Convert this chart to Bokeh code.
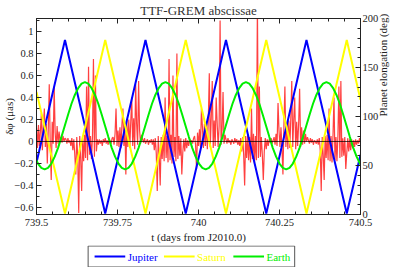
import math
import numpy as np
from bokeh.plotting import figure
from bokeh.models import Range1d, LinearAxis, FixedTicker, Span
from bokeh.layouts import column
from bokeh.embed import file_html
from bokeh.resources import INLINE
from bokeh.core.properties import value

FONT = "Liberation Serif"

# ---------------- data ----------------
x_ticks = [739.5, 739.75, 740.0, 740.25, 740.5]
x_tick_labels = ["739.5", "739.75", "740", "740.25", "740.5"]
x_minor = [739.55, 739.6, 739.65, 739.7, 739.8, 739.85, 739.9, 739.95,
           740.05, 740.1, 740.15, 740.2, 740.3, 740.35, 740.4, 740.45]
y_ticks = [-0.6, -0.4, -0.2, 0, 0.2, 0.4, 0.6, 0.8, 1.0]
y_tick_labels = ["\u22120.6", "\u22120.4", "\u22120.2", "0", "0.2", "0.4", "0.6", "0.8", "1"]
y_minor = [-0.5, -0.3, -0.1, 0.1, 0.3, 0.5, 0.7, 0.9, 1.1]
elong_ticks = [0, 50, 100, 150, 200]
elong_minor = [10, 20, 30, 40, 60, 70, 80, 90, 110, 120, 130, 140, 160, 170, 180, 190]

# TTF-GREM abscissa residuals (hundredths of micro-arcsec), evenly sampled over the day
red_start, red_end = 739.5, 740.5
red_cuas = [
    12, -6, 15, -4, 10, 26, -8, 14, 30, -5, 16, -20, 12, 52, -3, -35, 18, -2, 50, 8, -6, 14, -2, 9, 1,
    4, -1, 5, 0, 3, 2, -2, 3, -1, 1,
    -4, 3, -8, 2, -12, -30, 4, -14, -65, 5, -16, -45, 3, -18, 6, -15, 50, -17, 68, -12, 5, -16, 4, 75, -14, 60, -9, 2,
    -3, 2, -2, 1, -4, 2, -1, 3, -2, 1, -3, 2, 0, -2, 3,
    4, -3, 7, 30, -4, 10, -5, 13, -6, 15, 30, -4, 17, -30, 19, -5, 20, -6, 18, 40, -4, 21, -7, 52, 16, -3, 55, 10, -2, 6,
    2, -1, 3, -2, 0, 2, -3, 1, -1, 2,
    -3, 2, -8, 3, -11, -45, 5, -14, -40, 4, -16, 6, -18, 40, -15, 5, -19, 75, -17, 6, -20, 60, -14, 4, -18, 80, -16, 5,
    -13, 3, -30, -10, 2, -9, 3, -6, 1, -4,
    2, -1, 1, -2, 3,
    5, -3, -25, 8, -4, 11, -5, 30, 13, -6, 16, -4, 18, -7, 20, 62, -5, 22, 55, -6, 19, -4, 40, 17, -5, 14, 110, -3, 11, 45, -2, 6,
    2, -2, 3, -1, 1, -3, 2, 0, -2, 3, -1, 2, -3, 1,
    -4, 3, -9, 4, -12, -40, 5, -15, 6, -17, 4, -19, 30, -16, 7, -20, 5, -17, 125, -15, 50, -14, 4, -12, -35, -9, 3, -7, 2, -4,
    2, -1, 3, -2, 1,
    4, -3, 7, -4, 35, 10, -5, 13, -6, -30, 15, 50, -5, 17, -7, 19, -6, 21, 55, -5, 20, 40, -7, 18, -4, 16, 48, -5, 13, -3, 10, -2, 7, 0, 4,
    1, -2, 3, -1, 2, -3, 1, 0, -2, 2,
    -3, 3, -8, -45, 4, -12, -35, 5, -15, 6, -17, 30, -18, 5, -19, 6, 40, -17, 4, -18, 5, 50, -15, 55, -14, 3, -13, 4, -25, -11,
    3, -9, 2, -8, 2, -6, 1, -5,
    2, -3, 1, -2, 3, -1,
]

# Planet elongations (deg): turning points of the triangle waves
jup_t = [739.5, 739.5879, 739.7121, 739.8364, 739.9606, 740.0848, 740.2091, 740.3333, 740.4576, 740.5]
jup_deg = [53, 178, 1, 178, 1, 178, 1, 178, 1, 61]
sat_t = [739.5, 739.5879, 739.7121, 739.8364, 739.9606, 740.0848, 740.2091, 740.3333, 740.4576, 740.5]
sat_deg = [125, 1, 178, 1, 178, 1, 178, 1, 178, 117]

# Earth elongation (deg), sampled every 0.010353 d from t = 739.4941
earth_start, earth_step = 739.4941, 0.010353
earth_deg = [
    59, 52, 47.5, 46, 47.5, 52, 59, 68, 79, 90.5, 102, 113, 122, 129, 133.5, 135, 133.5, 129, 122, 113, 102, 90.5, 79, 68,
    59, 52, 47.5, 46, 47.5, 52, 59, 68, 79, 90.5, 102, 113, 122, 129, 133.5, 135, 133.5, 129, 122, 113, 102, 90.5, 79, 68,
    59, 52, 47.5, 46, 47.5, 52, 59, 68, 79, 90.5, 102, 113, 122, 129, 133.5, 135, 133.5, 129, 122, 113, 102, 90.5, 79, 68,
    59, 52, 47.5, 46, 47.5, 52, 59, 68, 79, 90.5, 102, 113, 122, 129, 133.5, 135, 133.5, 129, 122, 113, 102, 90.5, 79, 68,
    59, 52, 47.5, 46,
]

legend_names = ["Jupiter", "Saturn", "Earth"]
legend_colors = ["#0000ff", "#ffff00", "#00ee00"]

# ---------------- figure ----------------
red_t = np.linspace(red_start, red_end, len(red_cuas))
red_val = np.array(red_cuas) / 100.0
earth_t = earth_start + earth_step * np.arange(len(earth_deg))

p = figure(frame_width=324, frame_height=196, output_backend="svg", toolbar_location=None,
           x_range=Range1d(739.5, 740.5), y_range=Range1d(-0.664, 1.118),
           min_border_left=30, min_border_right=29, min_border_top=16, min_border_bottom=30,
           title="TTF-GREM abscissae")
p.extra_y_ranges = {"elong": Range1d(0, 200)}
p.xgrid.visible = False
p.ygrid.visible = False
p.outline_line_color = "#222222"
p.title.text_font = FONT
p.title.text_font_size = "13px"
p.title.text_font_style = "normal"
p.title.text_color = "#333333"
p.title.align = "center"
p.title.standoff = 1

p.line(red_t, red_val, line_color="#ff0000", line_alpha=0.75, line_width=1.2)
p.add_layout(Span(location=0, dimension="width", line_color="black", line_alpha=0.75, line_width=1))

p.line(jup_t, jup_deg, y_range_name="elong", line_color=legend_colors[0], line_width=2)
p.line(sat_t, sat_deg, y_range_name="elong", line_color=legend_colors[1], line_width=2)
p.line(earth_t, earth_deg, y_range_name="elong", line_color=legend_colors[2], line_width=2)


def style(ax, size="10.5px"):
    ax.major_tick_in = 5
    ax.major_tick_out = 0
    ax.minor_tick_in = 3
    ax.minor_tick_out = 0
    ax.axis_line_color = "#222222"
    ax.major_tick_line_color = "#222222"
    ax.minor_tick_line_color = "#222222"
    ax.major_label_text_font = FONT
    ax.major_label_text_font_size = size
    ax.major_label_text_color = "#222222"
    ax.axis_label_text_font = FONT
    ax.axis_label_text_font_size = "11px"
    ax.axis_label_text_font_style = "normal"
    ax.axis_label_text_color = "#222222"


xa = p.xaxis[0]
xa.ticker = FixedTicker(ticks=x_ticks, minor_ticks=x_minor)
xa.major_label_overrides = dict(zip(x_ticks, x_tick_labels))
xa.axis_label = "t (days from J2010.0)"
style(xa)
xa.major_label_standoff = 4
xa.axis_label_standoff = 2

top = LinearAxis(ticker=FixedTicker(ticks=x_ticks, minor_ticks=x_minor))
style(top)
top.major_label_text_font_size = "1px"
top.major_label_text_color = None
top.major_label_standoff = 0
p.add_layout(top, "above")

ya = p.yaxis[0]
ya.ticker = FixedTicker(ticks=y_ticks, minor_ticks=y_minor)
ya.major_label_overrides = dict(zip(y_ticks, y_tick_labels))
ya.axis_label = "\u03b4\u03c6 (\u03bcas)"
style(ya)
ya.major_label_standoff = 3
ya.axis_label_standoff = -4

ra = LinearAxis(y_range_name="elong", ticker=FixedTicker(ticks=elong_ticks, minor_ticks=elong_minor),
                axis_label="Planet elongation (deg)")
style(ra)
ra.major_label_standoff = 2
ra.axis_label_standoff = 2
ra.axis_label_orientation = math.pi / 2
p.add_layout(ra, "right")

# ---------------- legend strip ----------------
lg = figure(width=383, height=22, output_backend="svg", toolbar_location=None,
            x_range=Range1d(0, 383), y_range=Range1d(0, 22),
            x_axis_type=None, y_axis_type=None, min_border=0)
lg.xgrid.visible = False
lg.ygrid.visible = False
lg.outline_line_color = None
lg.quad(left=64, right=320, bottom=0.5, top=21.5, fill_color="white", line_color="#555555", line_width=1)
lg.segment(x0=[72, 158, 244], x1=[110, 196, 282], y0=[11, 11, 11], y1=[11, 11, 11],
           line_color=legend_colors, line_width=2)
lg.text(x=[113, 199, 285], y=[11, 11, 11], text=legend_names, text_color=legend_colors,
        text_baseline="middle", text_align="left", text_font=value(FONT), text_font_size="11px")

layout = column(p, lg, spacing=0)
open("out.html", "w").write(file_html(layout, INLINE))
